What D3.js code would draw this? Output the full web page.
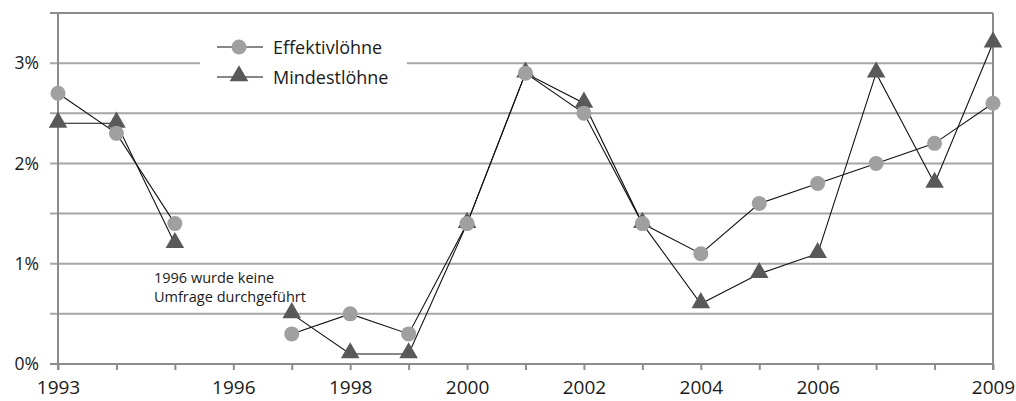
<!DOCTYPE html>
<html lang="de">
<head>
    <meta charset="UTF-8">
    <title>Effektivlöhne und Mindestlöhne</title>
    <style>
        body {
            margin: 0;
            background: #fff;
        }
        svg text {
            font-family: "Open Sans", "DejaVu Sans", sans-serif;
            fill: #1a1a1a;
        }
    </style>
</head>
<body>
<svg id="chart" width="1016" height="401"></svg>

<script src="https://cdn.jsdelivr.net/npm/d3@7"></script>
<script>
    // Jahre und Werte in Prozent (1996: keine Umfrage)
    const years = [1993, 1994, 1995, 1996, 1997, 1998, 1999, 2000, 2001, 2002, 2003, 2004, 2005, 2006, 2007, 2008, 2009];
    const effektiv = [2.7, 2.3, 1.4, null, 0.3, 0.5, 0.3, 1.4, 2.9, 2.5, 1.4, 1.1, 1.6, 1.8, 2.0, 2.2, 2.6];
    const mindest = [2.4, 2.4, 1.2, null, 0.5, 0.1, 0.1, 1.4, 2.9, 2.6, 1.4, 0.6, 0.9, 1.1, 2.9, 1.8, 3.2];
    const xLabels = [1993, 1996, 1998, 2000, 2002, 2004, 2006, 2009];
    const yLabels = [0, 1, 2, 3];
    const gridVals = [0.5, 1, 1.5, 2, 2.5, 3];
    const seriesNames = ["Effektivlöhne", "Mindestlöhne"];
    const note = ["1996 wurde keine", "Umfrage durchgeführt"];

    const svg = d3.select("#chart");
    const mLeft = 58, mRight = 993, mTop = 13, mBottom = 364;

    const x = d3.scaleLinear().domain([1993, 2009]).range([mLeft, mRight]);
    const y = d3.scaleLinear().domain([0, 3.5]).range([mBottom, mTop]);

    const gridColor = "#a6a6a6", axisColor = "#8c8c8c";

    // Gitterlinien (3%-Linie wird von der Legende unterbrochen)
    gridVals.forEach(function (v) {
        if (v === 3) {
            svg.append("line").attr("x1", mLeft - 8).attr("x2", 200)
                .attr("y1", y(v)).attr("y2", y(v))
                .attr("stroke", gridColor).attr("stroke-width", 2);
            svg.append("line").attr("x1", 407).attr("x2", mRight)
                .attr("y1", y(v)).attr("y2", y(v))
                .attr("stroke", gridColor).attr("stroke-width", 2);
        } else {
            svg.append("line").attr("x1", mLeft - 8).attr("x2", mRight)
                .attr("y1", y(v)).attr("y2", y(v))
                .attr("stroke", gridColor).attr("stroke-width", 2);
        }
    });

    // Rahmen oben und rechts
    svg.append("line").attr("x1", mLeft - 8).attr("x2", mRight)
        .attr("y1", y(3.5)).attr("y2", y(3.5))
        .attr("stroke", axisColor).attr("stroke-width", 2);
    svg.append("line").attr("x1", mRight).attr("x2", mRight)
        .attr("y1", y(3.5)).attr("y2", y(0) + 6)
        .attr("stroke", axisColor).attr("stroke-width", 2);

    // x-Achse
    const xAxis = d3.axisBottom(x)
        .tickValues(years)
        .tickSize(6)
        .tickFormat(function (d) { return xLabels.includes(d) ? d : ""; });
    const gx = svg.append("g")
        .attr("transform", "translate(0," + y(0) + ")")
        .call(xAxis);
    gx.select(".domain").attr("stroke", axisColor).attr("stroke-width", 2)
        .attr("d", "M" + (mLeft - 8) + ",0H" + mRight);
    gx.selectAll(".tick line").attr("stroke", axisColor).attr("stroke-width", 2);
    gx.selectAll(".tick text").attr("font-size", 19).attr("y", 30).attr("dy", 0);

    // y-Achse
    const yAxis = d3.axisLeft(y)
        .tickValues(yLabels)
        .tickSize(0)
        .tickPadding(19)
        .tickFormat(function (d) { return d + "%"; });
    const gy = svg.append("g")
        .attr("transform", "translate(" + mLeft + ",0)")
        .call(yAxis);
    gy.select(".domain").attr("stroke", axisColor).attr("stroke-width", 2)
        .attr("d", "M0," + y(3.5) + "V" + (y(0) + 6));
    gy.selectAll(".tick text").attr("font-size", 17.5);
    svg.selectAll(".tick text").style("font-family", "'Open Sans', 'DejaVu Sans', sans-serif").attr("fill", "#1a1a1a");

    // Linien
    const line = d3.line()
        .defined(function (d) { return d[1] !== null; })
        .x(function (d) { return x(d[0]); })
        .y(function (d) { return y(d[1]); });

    const mPts = years.map(function (yr, i) { return [yr, mindest[i]]; });
    const ePts = years.map(function (yr, i) { return [yr, effektiv[i]]; });

    svg.append("path").datum(mPts).attr("d", line)
        .attr("fill", "none").attr("stroke", "#111").attr("stroke-width", 1.1);
    svg.append("path").datum(ePts).attr("d", line)
        .attr("fill", "none").attr("stroke", "#111").attr("stroke-width", 1.1);

    // Marker
    const tri = d3.symbol().type(d3.symbolTriangle).size(150);
    const triColor = "#595959", circColor = "#a0a0a0";

    svg.selectAll("path.tri")
        .data(mPts.filter(function (d) { return d[1] !== null; }))
        .enter().append("path")
        .attr("class", "tri")
        .attr("d", tri)
        .attr("transform", function (d) { return "translate(" + x(d[0]) + "," + (y(d[1]) - 1) + ")"; })
        .attr("fill", triColor);

    svg.selectAll("circle.eff")
        .data(ePts.filter(function (d) { return d[1] !== null; }))
        .enter().append("circle")
        .attr("class", "eff")
        .attr("cx", function (d) { return x(d[0]); })
        .attr("cy", function (d) { return y(d[1]); })
        .attr("r", 7.5)
        .attr("fill", circColor);

    // Legende
    const legend = svg.append("g").attr("transform", "translate(217,47)");
    seriesNames.forEach(function (name, i) {
        const g = legend.append("g").attr("transform", "translate(0," + (i * 30) + ")");
        g.append("line").attr("x1", 0).attr("x2", 46).attr("y1", 0).attr("y2", 0)
            .attr("stroke", "#111").attr("stroke-width", 1.1);
        if (i === 0) {
            g.append("circle").attr("cx", 22).attr("cy", 0).attr("r", 7.5).attr("fill", circColor);
        } else {
            g.append("path").attr("d", tri).attr("transform", "translate(22,-1)").attr("fill", triColor);
        }
        g.append("text").attr("x", 56).attr("y", 6.5).attr("font-size", 18).text(name);
    });

    // Anmerkung
    const noteText = svg.append("text").attr("x", 154).attr("y", 283).attr("font-size", 14.5);
    note.forEach(function (t, i) {
        noteText.append("tspan").attr("x", 154).attr("dy", i === 0 ? 0 : 19).text(t);
    });
</script>
</body>
</html>
